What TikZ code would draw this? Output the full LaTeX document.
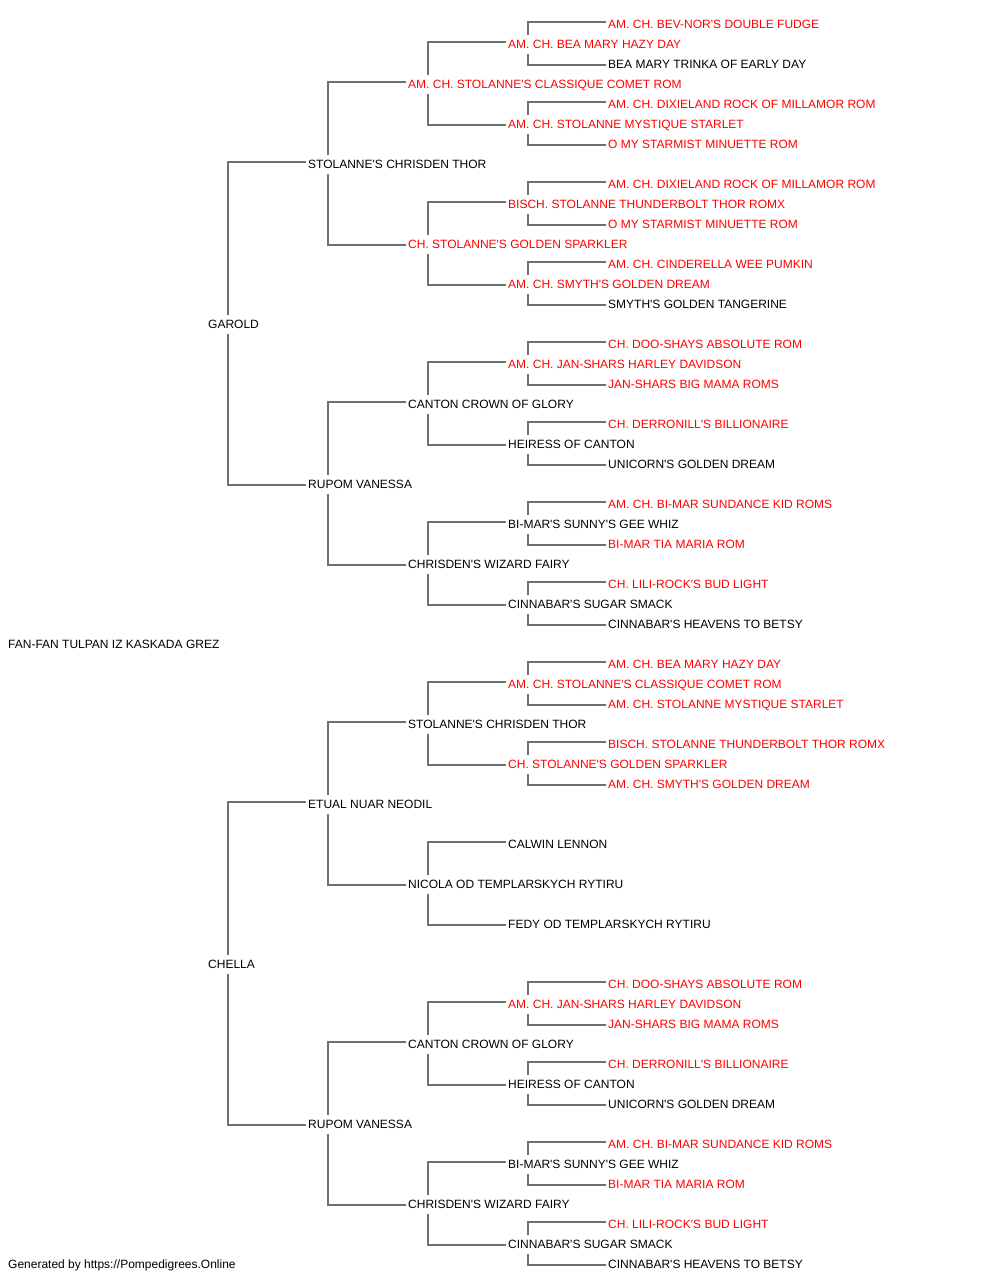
\documentclass[tikz,border=0pt]{standalone}
\usepackage{fontspec}
\setmainfont{Liberation Sans}[Ligatures=TeXOff]
\definecolor{lncol}{HTML}{707070}
\definecolor{redname}{HTML}{FF0000}
\begin{document}
\begin{tikzpicture}[x=1pt,y=-1pt,
  nm/.style={anchor=west,inner sep=0pt,text height=8.6pt,text depth=0pt,font=\fontsize{12}{14}\selectfont,text=black},
  rd/.style={nm,text=redname},
  ln/.style={draw=lncol,line width=1.8pt}]
\useasboundingbox (0,0) rectangle (1000,1280);
\newcommand\brk[3]{%
  \draw[ln] ([xshift=-2pt,yshift=1.5pt]#2.west) -| ([xshift=20pt,yshift=8.8pt]#1.west);
  \draw[ln] ([xshift=-2pt,yshift=-1.2pt]#3.west) -| ([xshift=20pt,yshift=-10.2pt]#1.west);}
% root and footer
\node[nm] (r) at (8,643.8) {FAN-FAN TULPAN IZ KASKADA GREZ};
\node[nm] (f) at (8,1263.8) {Generated by https://Pompedigrees.Online};
% top half
\node[nm] (a) at (208,323.8) {GAROLD};
\node[nm] (aa) at (308,163.8) {STOLANNE'S CHRISDEN THOR};
\node[rd] (aaa) at (408,83.8) {AM. CH. STOLANNE'S CLASSIQUE COMET ROM};
\node[rd] (aaaa) at (508,43.8) {AM. CH. BEA MARY HAZY DAY};
\node[rd] (aaaaa) at (608,23.8) {AM. CH. BEV-NOR'S DOUBLE FUDGE};
\node[nm] (aaaab) at (608,63.8) {BEA MARY TRINKA OF EARLY DAY};
\node[rd] (aaab) at (508,123.8) {AM. CH. STOLANNE MYSTIQUE STARLET};
\node[rd] (aaaba) at (608,103.8) {AM. CH. DIXIELAND ROCK OF MILLAMOR ROM};
\node[rd] (aaabb) at (608,143.8) {O MY STARMIST MINUETTE ROM};
\node[rd] (aab) at (408,243.8) {CH. STOLANNE'S GOLDEN SPARKLER};
\node[rd] (aaba) at (508,203.8) {BISCH. STOLANNE THUNDERBOLT THOR ROMX};
\node[rd] (aabaa) at (608,183.8) {AM. CH. DIXIELAND ROCK OF MILLAMOR ROM};
\node[rd] (aabab) at (608,223.8) {O MY STARMIST MINUETTE ROM};
\node[rd] (aabb) at (508,283.8) {AM. CH. SMYTH'S GOLDEN DREAM};
\node[rd] (aabba) at (608,263.8) {AM. CH. CINDERELLA WEE PUMKIN};
\node[nm] (aabbb) at (608,303.8) {SMYTH'S GOLDEN TANGERINE};
\node[nm] (ab) at (308,483.8) {RUPOM VANESSA};
\node[nm] (aba) at (408,403.8) {CANTON CROWN OF GLORY};
\node[rd] (abaa) at (508,363.8) {AM. CH. JAN-SHARS HARLEY DAVIDSON};
\node[rd] (abaaa) at (608,343.8) {CH. DOO-SHAYS ABSOLUTE ROM};
\node[rd] (abaab) at (608,383.8) {JAN-SHARS BIG MAMA ROMS};
\node[nm] (abab) at (508,443.8) {HEIRESS OF CANTON};
\node[rd] (ababa) at (608,423.8) {CH. DERRONILL'S BILLIONAIRE};
\node[nm] (ababb) at (608,463.8) {UNICORN'S GOLDEN DREAM};
\node[nm] (abb) at (408,563.8) {CHRISDEN'S WIZARD FAIRY};
\node[nm] (abba) at (508,523.8) {BI-MAR'S SUNNY'S GEE WHIZ};
\node[rd] (abbaa) at (608,503.8) {AM. CH. BI-MAR SUNDANCE KID ROMS};
\node[rd] (abbab) at (608,543.8) {BI-MAR TIA MARIA ROM};
\node[nm] (abbb) at (508,603.8) {CINNABAR'S SUGAR SMACK};
\node[rd] (abbba) at (608,583.8) {CH. LILI-ROCK'S BUD LIGHT};
\node[nm] (abbbb) at (608,623.8) {CINNABAR'S HEAVENS TO BETSY};
% bottom half
\node[nm] (b) at (208,963.8) {CHELLA};
\node[nm] (ba) at (308,803.8) {ETUAL NUAR NEODIL};
\node[nm] (baa) at (408,723.8) {STOLANNE'S CHRISDEN THOR};
\node[rd] (baaa) at (508,683.8) {AM. CH. STOLANNE'S CLASSIQUE COMET ROM};
\node[rd] (baaaa) at (608,663.8) {AM. CH. BEA MARY HAZY DAY};
\node[rd] (baaab) at (608,703.8) {AM. CH. STOLANNE MYSTIQUE STARLET};
\node[rd] (baab) at (508,763.8) {CH. STOLANNE'S GOLDEN SPARKLER};
\node[rd] (baaba) at (608,743.8) {BISCH. STOLANNE THUNDERBOLT THOR ROMX};
\node[rd] (baabb) at (608,783.8) {AM. CH. SMYTH'S GOLDEN DREAM};
\node[nm] (bab) at (408,883.8) {NICOLA OD TEMPLARSKYCH RYTIRU};
\node[nm] (baba) at (508,843.8) {CALWIN LENNON};
\node[nm] (babb) at (508,923.8) {FEDY OD TEMPLARSKYCH RYTIRU};
\node[nm] (bb) at (308,1123.8) {RUPOM VANESSA};
\node[nm] (bba) at (408,1043.8) {CANTON CROWN OF GLORY};
\node[rd] (bbaa) at (508,1003.8) {AM. CH. JAN-SHARS HARLEY DAVIDSON};
\node[rd] (bbaaa) at (608,983.8) {CH. DOO-SHAYS ABSOLUTE ROM};
\node[rd] (bbaab) at (608,1023.8) {JAN-SHARS BIG MAMA ROMS};
\node[nm] (bbab) at (508,1083.8) {HEIRESS OF CANTON};
\node[rd] (bbaba) at (608,1063.8) {CH. DERRONILL'S BILLIONAIRE};
\node[nm] (bbabb) at (608,1103.8) {UNICORN'S GOLDEN DREAM};
\node[nm] (bbb) at (408,1203.8) {CHRISDEN'S WIZARD FAIRY};
\node[nm] (bbba) at (508,1163.8) {BI-MAR'S SUNNY'S GEE WHIZ};
\node[rd] (bbbaa) at (608,1143.8) {AM. CH. BI-MAR SUNDANCE KID ROMS};
\node[rd] (bbbab) at (608,1183.8) {BI-MAR TIA MARIA ROM};
\node[nm] (bbbb) at (508,1243.8) {CINNABAR'S SUGAR SMACK};
\node[rd] (bbbba) at (608,1223.8) {CH. LILI-ROCK'S BUD LIGHT};
\node[nm] (bbbbb) at (608,1263.8) {CINNABAR'S HEAVENS TO BETSY};
% brackets top
\brk{a}{aa}{ab}
\brk{aa}{aaa}{aab}
\brk{aaa}{aaaa}{aaab}
\brk{aaaa}{aaaaa}{aaaab}
\brk{aaab}{aaaba}{aaabb}
\brk{aab}{aaba}{aabb}
\brk{aaba}{aabaa}{aabab}
\brk{aabb}{aabba}{aabbb}
\brk{ab}{aba}{abb}
\brk{aba}{abaa}{abab}
\brk{abaa}{abaaa}{abaab}
\brk{abab}{ababa}{ababb}
\brk{abb}{abba}{abbb}
\brk{abba}{abbaa}{abbab}
\brk{abbb}{abbba}{abbbb}
% brackets bottom
\brk{b}{ba}{bb}
\brk{ba}{baa}{bab}
\brk{baa}{baaa}{baab}
\brk{baaa}{baaaa}{baaab}
\brk{baab}{baaba}{baabb}
\brk{bab}{baba}{babb}
\brk{bb}{bba}{bbb}
\brk{bba}{bbaa}{bbab}
\brk{bbaa}{bbaaa}{bbaab}
\brk{bbab}{bbaba}{bbabb}
\brk{bbb}{bbba}{bbbb}
\brk{bbba}{bbbaa}{bbbab}
\brk{bbbb}{bbbba}{bbbbb}
\end{tikzpicture}
\end{document}
